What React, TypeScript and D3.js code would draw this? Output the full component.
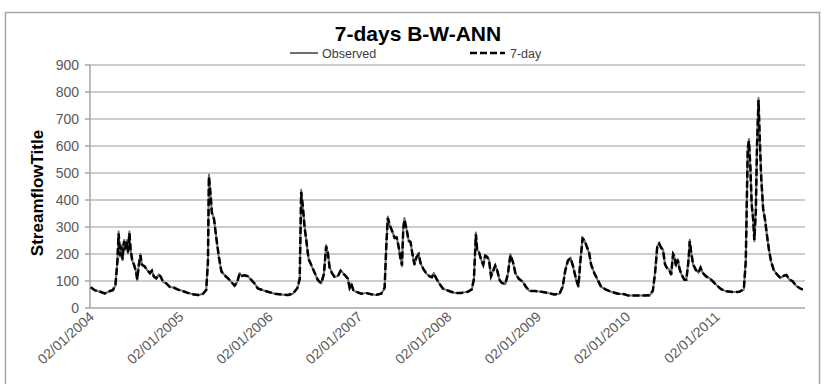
import React, { useEffect, useRef } from "react";
import * as d3 from "d3";

// series start / end (dd/mm/yyyy in the labels)
const START = "2004-01-02";
const END = "2012-01-02";

const yTicks = [0, 100, 200, 300, 400, 500, 600, 700, 800, 900];
const xTickLabels = [
  "02/01/2004", "02/01/2005", "02/01/2006", "02/01/2007",
  "02/01/2008", "02/01/2009", "02/01/2010", "02/01/2011",
];

// days since START for each reading
const dayOffsets = [
  3, 19, 40, 60, 74, 94, 104, 112, 117, 123, 128, 133, 139, 144, 150, 155, 161, 166, 172, 180,
  188, 193, 200, 206, 212, 223, 234, 245, 253, 261, 271, 281, 289, 298, 312, 325, 343, 360, 380, 400,
  421, 441, 462, 475, 482, 486, 493, 498, 507, 516, 526, 537, 550, 564, 577, 591, 602, 611, 621, 632,
  645, 659, 673, 686, 707,
  727, 754, 782, 809, 829, 847, 857, 863, 870, 877, 885, 893, 904, 918, 931, 945, 956, 965, 972, 979,
  989, 999, 1013, 1024, 1035, 1046, 1054, 1061, 1068, 1076, 1088, 1108, 1129, 1149, 1170, 1190, 1204, 1211, 1217, 1226,
  1234, 1245, 1253, 1261, 1268, 1275, 1280, 1285, 1294, 1302, 1310, 1317, 1326, 1334, 1343, 1351, 1362, 1374, 1388, 1397,
  1405, 1415, 1428, 1442,
  1470, 1490, 1517, 1544, 1560, 1569, 1577, 1582, 1590, 1599, 1607, 1615, 1623, 1631, 1639, 1648, 1656, 1664, 1674, 1683,
  1697, 1708, 1718, 1728, 1739, 1751, 1769, 1782, 1796, 1817, 1844, 1871, 1898, 1919, 1932, 1942, 1953, 1964, 1974, 1987,
  1996, 2004, 2013, 2021, 2029, 2040, 2048, 2062, 2075, 2089, 2109, 2130, 2157, 2184,
  2200, 2225, 2252, 2286, 2300, 2309, 2318, 2326, 2334, 2342, 2350, 2358, 2367, 2375, 2383, 2388, 2395, 2402, 2410, 2418,
  2429, 2437, 2446, 2451, 2456, 2465, 2476, 2487, 2495, 2504, 2518, 2531, 2545, 2559, 2579, 2599, 2627, 2654, 2672, 2680,
  2688, 2693, 2699, 2704, 2710, 2715, 2721, 2726, 2732, 2737, 2743, 2751, 2759, 2767, 2775, 2783, 2794, 2808, 2822, 2835,
  2846, 2858, 2872, 2885, 2899, 2913,
];

const observed = [
  78, 66, 60, 53, 60, 66, 84, 177, 283, 190, 233, 177, 252, 215, 252, 202, 283, 215, 177, 159,
  134, 103, 165, 200, 159, 155, 140, 128, 140, 115, 109, 125, 115, 97, 91, 78, 76, 68, 63, 56,
  51, 47, 53, 66, 177, 494, 413, 357, 326, 264, 190, 134, 122, 109, 97, 81, 97, 130, 118, 122,
  118, 103, 91, 72, 66,
  60, 53, 50, 47, 53, 72, 103, 438, 370, 302, 240, 184, 159, 130, 103, 91, 128, 233, 202, 153,
  128, 115, 118, 140, 128, 118, 109, 72, 91, 66, 60, 53, 56, 51, 48, 53, 72, 240, 339, 302,
  289, 258, 264, 227, 190, 155, 295, 333, 289, 252, 246, 202, 159, 190, 202, 165, 146, 128, 118, 113,
  130, 109, 91, 72,
  62, 56, 56, 60, 68, 103, 280, 215, 208, 177, 159, 196, 190, 177, 115, 140, 159, 140, 103, 93,
  88, 128, 200, 171, 128, 109, 97, 78, 63, 63, 60, 56, 50, 53, 78, 140, 177, 187, 153, 103,
  78, 177, 262, 249, 233, 202, 159, 128, 103, 78, 68, 60, 53, 51,
  46, 46, 46, 46, 62, 130, 228, 241, 222, 216, 160, 148, 142, 123, 204, 191, 154, 181, 142, 123,
  104, 104, 179, 253, 210, 160, 142, 130, 152, 130, 117, 111, 99, 86, 70, 62, 59, 60, 68, 179,
  599, 626, 512, 389, 327, 247, 364, 611, 778, 623, 488, 364, 327, 265, 216, 173, 142, 123, 111, 120,
  123, 105, 99, 83, 74, 68,
];

const sevenDay = [
  77, 66, 61, 54, 60, 67, 86, 172, 276, 194, 228, 180, 247, 218, 246, 206, 277, 218, 180, 160,
  136, 106, 162, 196, 161, 154, 141, 129, 138, 117, 110, 123, 116, 98, 91, 79, 75, 68, 62, 56,
  51, 48, 53, 67, 170, 486, 418, 352, 329, 260, 194, 136, 121, 110, 97, 83, 96, 127, 119, 121,
  117, 104, 90, 72, 66,
  60, 53, 50, 48, 53, 73, 108, 430, 374, 298, 244, 181, 160, 131, 104, 92, 126, 228, 205, 150,
  129, 116, 118, 138, 128, 117, 108, 75, 89, 67, 60, 53, 55, 51, 49, 53, 75, 232, 333, 305,
  286, 260, 261, 229, 188, 158, 290, 327, 292, 249, 244, 204, 161, 187, 199, 166, 145, 129, 117, 114,
  127, 110, 90, 72,
  62, 56, 56, 60, 69, 108, 273, 218, 205, 178, 160, 193, 189, 175, 118, 138, 157, 139, 104, 93,
  89, 126, 196, 172, 127, 110, 96, 78, 63, 63, 60, 56, 50, 53, 80, 137, 175, 184, 155, 105,
  80, 172, 257, 251, 230, 204, 160, 127, 104, 78, 68, 60, 53, 51,
  46, 46, 46, 47, 64, 126, 224, 238, 224, 213, 162, 148, 141, 124, 200, 193, 155, 178, 143, 123,
  105, 105, 175, 248, 212, 161, 141, 131, 149, 130, 117, 110, 99, 86, 70, 62, 59, 60, 70, 172,
  590, 618, 518, 384, 330, 252, 356, 604, 770, 630, 482, 368, 324, 267, 214, 174, 141, 124, 111, 119,
  122, 106, 98, 83, 74, 68,
];

const App = () => {
  const chartRef = useRef<SVGSVGElement>(null);

  useEffect(() => {
    document.body.style.margin = "0";
    const width = 825;
    const height = 384;
    const plot = { left: 90, right: 805, top: 65, bottom: 308 };
    const font = "'Liberation Sans', Arial, sans-serif";

    const svg = d3.select(chartRef.current);
    svg.selectAll("*").remove();
    svg.attr("width", width).attr("height", height);

    const parse = d3.timeParse("%Y-%m-%d");
    const start = parse(START)!;
    const x = d3.scaleTime().domain([start, parse(END)!]).range([plot.left, plot.right]);
    const y = d3.scaleLinear().domain([0, 900]).range([plot.bottom, plot.top]);

    // chart frame
    svg.append("rect")
      .attr("x", 5.5).attr("y", 12.5)
      .attr("width", 814).attr("height", 380)
      .attr("fill", "#fff").attr("stroke", "#a6a6a6").attr("stroke-width", 1.5);

    // gridlines
    svg.append("g")
      .selectAll("line")
      .data(yTicks.filter((t) => t > 0))
      .enter()
      .append("line")
      .attr("x1", plot.left).attr("x2", plot.right)
      .attr("y1", (d) => y(d)).attr("y2", (d) => y(d))
      .attr("stroke", "#bdbdbd").attr("stroke-width", 1.5);

    // axes
    svg.append("line")
      .attr("x1", plot.left).attr("x2", plot.left)
      .attr("y1", plot.top).attr("y2", plot.bottom)
      .attr("stroke", "#a6a6a6").attr("stroke-width", 1.5);
    svg.append("line")
      .attr("x1", plot.left).attr("x2", plot.right)
      .attr("y1", plot.bottom).attr("y2", plot.bottom)
      .attr("stroke", "#a6a6a6").attr("stroke-width", 1.5);

    const yAxis = svg.append("g");
    yAxis.selectAll("line")
      .data(yTicks)
      .enter()
      .append("line")
      .attr("x1", plot.left - 5).attr("x2", plot.left)
      .attr("y1", (d) => y(d)).attr("y2", (d) => y(d))
      .attr("stroke", "#a6a6a6").attr("stroke-width", 1.5);
    yAxis.selectAll("text")
      .data(yTicks)
      .enter()
      .append("text")
      .attr("x", plot.left - 11)
      .attr("y", (d) => y(d))
      .attr("dy", "0.36em")
      .attr("text-anchor", "end")
      .attr("font-family", font)
      .attr("font-size", "14px")
      .attr("fill", "#595959")
      .text((d) => d);

    // x labels, one per year
    svg.append("g")
      .selectAll("text")
      .data(xTickLabels)
      .enter()
      .append("text")
      .attr("transform", (d, i) => `translate(${x(d3.timeYear.offset(start, i)) + 5},${plot.bottom + 10}) rotate(-42)`)
      .attr("text-anchor", "end")
      .attr("font-family", font)
      .attr("font-size", "14px")
      .attr("fill", "#595959")
      .text((d) => d);

    // series
    const dates = dayOffsets.map((d) => d3.timeDay.offset(start, d));
    const line = d3.line<number>()
      .x((d, i) => x(dates[i]))
      .y((d) => y(d));

    svg.append("path")
      .attr("d", line(observed))
      .attr("fill", "none")
      .attr("stroke", "#6e6e6e")
      .attr("stroke-width", 2)
      .attr("stroke-linejoin", "round");

    svg.append("path")
      .attr("d", line(sevenDay))
      .attr("fill", "none")
      .attr("stroke", "#000")
      .attr("stroke-width", 2.5)
      .attr("stroke-dasharray", "7,3");

    // legend
    const legend = svg.append("g");
    legend.append("line")
      .attr("x1", 290).attr("x2", 318).attr("y1", 53).attr("y2", 53)
      .attr("stroke", "#6e6e6e").attr("stroke-width", 2);
    legend.append("text")
      .attr("x", 322).attr("y", 57.5)
      .attr("font-family", font).attr("font-size", "12.5px").attr("fill", "#404040")
      .text("Observed");
    legend.append("line")
      .attr("x1", 470).attr("x2", 505).attr("y1", 53).attr("y2", 53)
      .attr("stroke", "#000").attr("stroke-width", 2.5).attr("stroke-dasharray", "7,3");
    legend.append("text")
      .attr("x", 510).attr("y", 57.5)
      .attr("font-family", font).attr("font-size", "12.5px").attr("fill", "#404040")
      .text("7-day");

    // titles
    svg.append("text")
      .attr("x", 418).attr("y", 41)
      .attr("text-anchor", "middle")
      .attr("font-family", font).attr("font-size", "21px").attr("font-weight", "bold")
      .text("7-days B-W-ANN");

    svg.append("text")
      .attr("transform", `translate(43,193) rotate(-90)`)
      .attr("text-anchor", "middle")
      .attr("font-family", font).attr("font-size", "17px").attr("font-weight", "bold")
      .text("StreamflowTitle");
  }, []);

  return <svg ref={chartRef} style={{ display: "block" }}></svg>;
};

export default App;
